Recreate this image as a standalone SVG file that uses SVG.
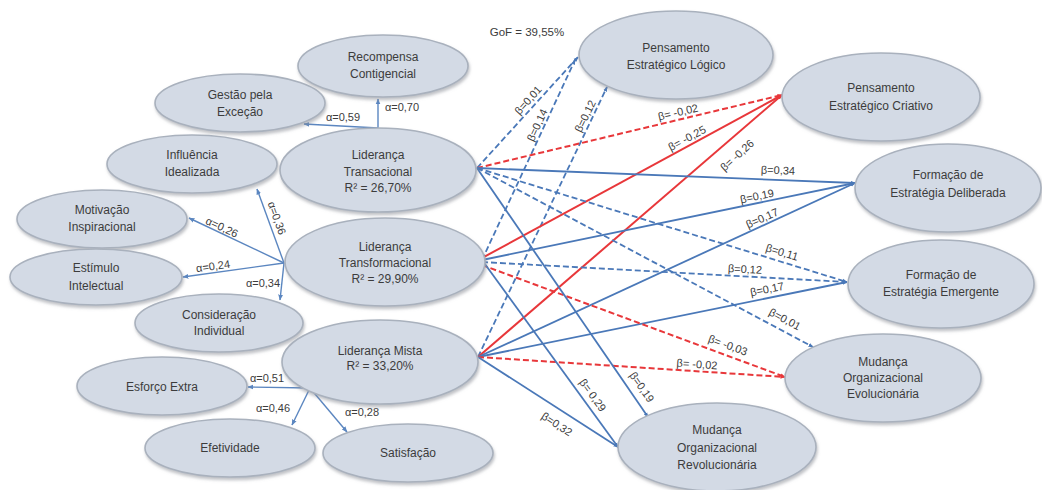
<svg xmlns="http://www.w3.org/2000/svg" width="1042" height="490" viewBox="0 0 1042 490">
<style>
.n ellipse{fill:#d3dae5;stroke:#a9b1bd;stroke-width:1.6;filter:url(#sh)}
.n text{font-family:"Liberation Sans",Arial,sans-serif;font-size:12px;fill:#3c3c3c;text-anchor:middle;dominant-baseline:central}
.b{stroke:#4a78b8;stroke-width:1.8;fill:none;marker-end:url(#ab)}
.r{stroke:#e8373a;stroke-width:2;fill:none;marker-end:url(#ar)}
.d{stroke-dasharray:6 3}
.l{stroke:#5b86c0;stroke-width:1.4;fill:none;marker-end:url(#al)}
.t{font-family:"Liberation Sans",Arial,sans-serif;font-size:11px;fill:#3c3c3c;text-anchor:middle;dominant-baseline:central}
</style>
<defs>
<filter id="sh" x="-10%" y="-10%" width="125%" height="135%"><feDropShadow dx="1" dy="2.5" stdDeviation="1.5" flood-color="#8a8f96" flood-opacity="0.55"/></filter>
<marker id="ab" viewBox="0 0 10 10" refX="9" refY="5" markerWidth="5" markerHeight="5" orient="auto" markerUnits="userSpaceOnUse"><path d="M0,1 L10,5 L0,9 z" fill="#4a78b8"/></marker>
<marker id="ar" viewBox="0 0 10 10" refX="9" refY="5" markerWidth="5" markerHeight="5" orient="auto" markerUnits="userSpaceOnUse"><path d="M0,1 L10,5 L0,9 z" fill="#e8373a"/></marker>
<marker id="al" viewBox="0 0 10 10" refX="9" refY="5" markerWidth="6" markerHeight="6" orient="auto" markerUnits="userSpaceOnUse"><path d="M0,1 L10,5 L0,9 z" fill="#5b86c0"/></marker>
</defs>
<rect width="1042" height="490" fill="#ffffff"/>

<g id="connectors">
<path class="l" d="M378,128 L378,99"/>
<path class="l" d="M378,128 L304,124"/>
<path class="l" d="M284,263 L257,189"/>
<path class="l" d="M284,263 L189,218"/>
<path class="l" d="M284,263 L183,277"/>
<path class="l" d="M284,263 L280,300"/>
<path class="l" d="M310,388 L248,387"/>
<path class="l" d="M310,388 L292,425"/>
<path class="l" d="M310,388 L347,432"/>
<path class="b d" d="M477,168 L578,57"/>
<path class="b d" d="M482,260 L575,60"/>
<path class="b d" d="M478,357 L607,87"/>
<path class="r d" d="M477,168 L782,95"/>
<path class="r" d="M482,258 L782,95"/>
<path class="r" d="M478,357 L782,95"/>
<path class="b" d="M477,168 L855,183"/>
<path class="b" d="M482,260 L855,183"/>
<path class="b" d="M478,357 L855,183"/>
<path class="b d" d="M477,168 L847,282"/>
<path class="b d" d="M482,262 L847,282"/>
<path class="b" d="M478,357 L847,282"/>
<path class="b d" d="M477,168 L813,347"/>
<path class="r d" d="M482,265 L785,377"/>
<path class="r d" d="M478,357 L785,377"/>
<path class="b" d="M478,357 L618,447"/>
<path class="b" d="M482,260 L618,447"/>
<path class="b" d="M477,168 L648,417"/>
</g>

<g id="labels">
<text class="t" x="343" y="117">α=0,59</text>
<text class="t" x="402" y="107">α=0,70</text>
<text class="t" x="277" y="218" transform="rotate(70 277 218)">α=0,36</text>
<text class="t" x="222" y="227" transform="rotate(25 222 227)">α=0,26</text>
<text class="t" x="213" y="266" transform="rotate(-8 213 266)">α=0,24</text>
<text class="t" x="263" y="283">α=0,34</text>
<text class="t" x="267" y="378">α=0,51</text>
<text class="t" x="273" y="408">α=0,46</text>
<text class="t" x="362" y="412">α=0,28</text>
<text class="t" x="527" y="32" style="font-size:11.5px">GoF = 39,55%</text>
<text class="t" x="528" y="100" transform="rotate(-48 528 100)">β=0,01</text>
<text class="t" x="537" y="125" transform="rotate(-65 537 125)">β=0,14</text>
<text class="t" x="585" y="116" transform="rotate(-64 585 116)">β=0,12</text>
<text class="t" x="678" y="112" transform="rotate(-13 678 112)">β= -0,02</text>
<text class="t" x="687" y="138" transform="rotate(-28 687 138)">β= -0,25</text>
<text class="t" x="737" y="155" transform="rotate(-42 737 155)">β= -0,26</text>
<text class="t" x="778" y="170" transform="rotate(2 778 170)">β=0,34</text>
<text class="t" x="757" y="196" transform="rotate(-12 757 196)">β=0,19</text>
<text class="t" x="762" y="218" transform="rotate(-24 762 218)">β=0,17</text>
<text class="t" x="782" y="252" transform="rotate(17 782 252)">β=0,11</text>
<text class="t" x="745" y="269" transform="rotate(3 745 269)">β=0,12</text>
<text class="t" x="767" y="289" transform="rotate(-11 767 289)">β=0,17</text>
<text class="t" x="785" y="319" transform="rotate(28 785 319)">β=0,01</text>
<text class="t" x="728" y="345" transform="rotate(20 728 345)">β= -0,03</text>
<text class="t" x="697" y="364" transform="rotate(4 697 364)">β= -0,02</text>
<text class="t" x="557" y="424" transform="rotate(33 557 424)">β=0,32</text>
<text class="t" x="593" y="395" transform="rotate(54 593 395)">β= 0,29</text>
<text class="t" x="642" y="387" transform="rotate(55 642 387)">β=0,19</text>
</g>

<g id="recompensa" class="n"><ellipse cx="383" cy="66" rx="85" ry="31"/><text x="383" y="57">Recompensa</text><text x="383" y="74">Contigencial</text></g>
<g id="gestao" class="n"><ellipse cx="240" cy="103" rx="85" ry="29"/><text x="240" y="95">Gestão pela</text><text x="240" y="112">Exceção</text></g>
<g id="influencia" class="n"><ellipse cx="192" cy="164" rx="85" ry="29"/><text x="192" y="155">Influência</text><text x="192" y="172">Idealizada</text></g>
<g id="motivacao" class="n"><ellipse cx="102" cy="219" rx="85" ry="29"/><text x="102" y="210">Motivação</text><text x="102" y="227">Inspiracional</text></g>
<g id="estimulo" class="n"><ellipse cx="96" cy="277" rx="86" ry="28"/><text x="96" y="268">Estímulo</text><text x="96" y="286">Intelectual</text></g>
<g id="consideracao" class="n"><ellipse cx="219" cy="323" rx="84" ry="29"/><text x="219" y="315">Consideração</text><text x="219" y="331">Individual</text></g>
<g id="esforco" class="n"><ellipse cx="162" cy="386" rx="85" ry="29"/><text x="162" y="387">Esforço Extra</text></g>
<g id="efetividade" class="n"><ellipse cx="230" cy="448" rx="85" ry="29"/><text x="230" y="448">Efetividade</text></g>
<g id="satisfacao" class="n"><ellipse cx="408" cy="453" rx="85" ry="29"/><text x="408" y="453">Satisfação</text></g>

<g id="transacional" class="n"><ellipse cx="378" cy="170" rx="98" ry="42"/><text x="378" y="155">Liderança</text><text x="378" y="172">Transacional</text><text x="378" y="188">R² = 26,70%</text></g>
<g id="transformacional" class="n"><ellipse cx="385" cy="262" rx="100" ry="44"/><text x="385" y="247">Liderança</text><text x="385" y="263">Transformacional</text><text x="385" y="279">R² = 29,90%</text></g>
<g id="mista" class="n"><ellipse cx="380" cy="362" rx="98" ry="42"/><text x="380" y="351">Liderança Mista</text><text x="380" y="366">R² = 33,20%</text></g>

<g id="pel" class="n"><ellipse cx="676" cy="55" rx="97" ry="44"/><text x="676" y="48">Pensamento</text><text x="676" y="65">Estratégico Lógico</text></g>
<g id="pec" class="n"><ellipse cx="881" cy="97" rx="99" ry="44"/><text x="881" y="88">Pensamento</text><text x="881" y="106">Estratégico Criativo</text></g>
<g id="fed" class="n"><ellipse cx="948" cy="188" rx="93" ry="44"/><text x="948" y="175">Formação de</text><text x="948" y="193">Estratégia Deliberada</text></g>
<g id="fee" class="n"><ellipse cx="941" cy="284" rx="93" ry="44"/><text x="941" y="275">Formação de</text><text x="941" y="292">Estratégia Emergente</text></g>
<g id="moe" class="n"><ellipse cx="883" cy="378" rx="98" ry="44"/><text x="883" y="362">Mudança</text><text x="883" y="378">Organizacional</text><text x="883" y="394">Evolucionária</text></g>
<g id="mor" class="n"><ellipse cx="717" cy="447" rx="99" ry="44"/><text x="717" y="430">Mudança</text><text x="717" y="448">Organizacional</text><text x="717" y="465">Revolucionária</text></g>
</svg>
